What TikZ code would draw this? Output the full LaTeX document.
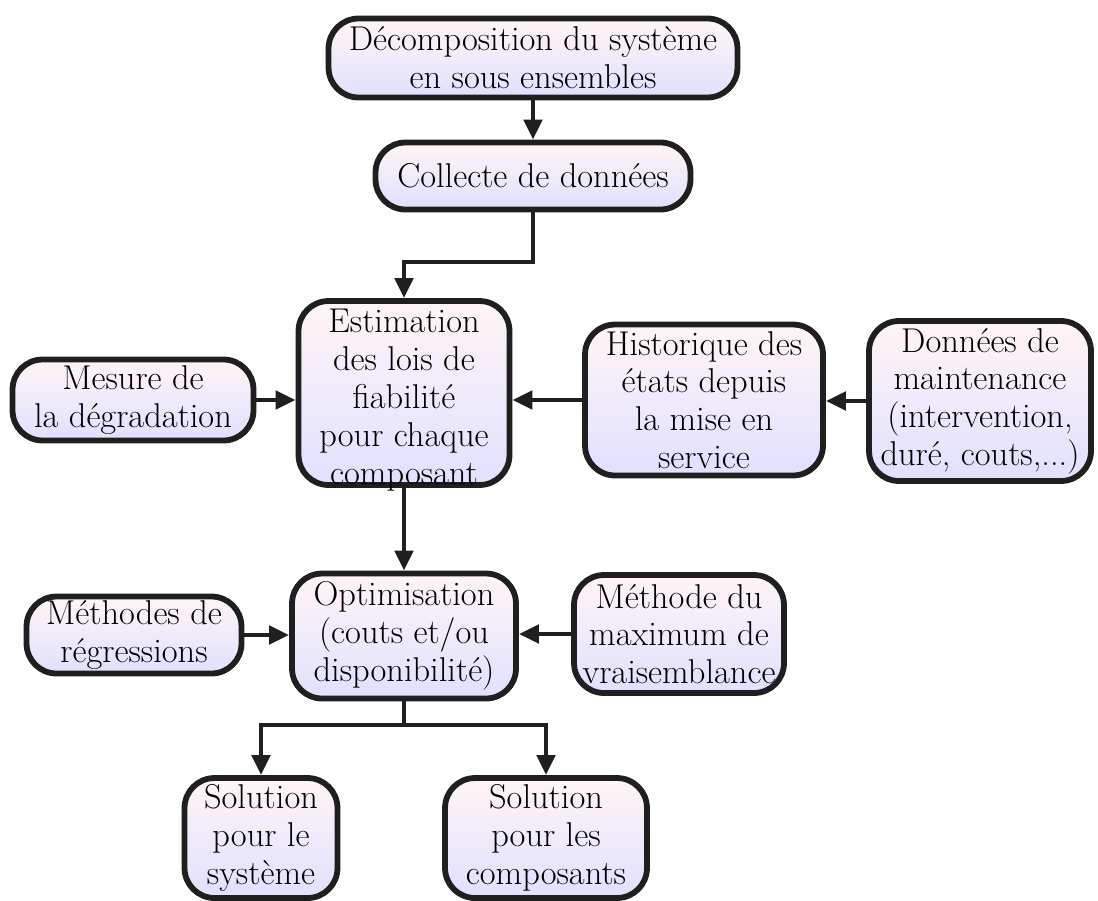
\documentclass[tikz,border=0pt]{standalone}
\usetikzlibrary{arrows.meta}
\begin{document}
\begin{tikzpicture}[x=0.02cm,y=-0.02cm,
  box/.style={draw=black!88, line width=3.3pt, rounded corners=0.6cm,
    top color=red!4, bottom color=blue!12, align=center, inner sep=0pt,
    font=\fontsize{19.6}{21.5}\selectfont},
  link/.style={draw=black!88, line width=2.8pt,
    -{Triangle[length=0.4cm,width=0.36cm]}},
  plain/.style={draw=black!88, line width=2.8pt}]
\useasboundingbox (0,0) rectangle (1098,900);

\node[box, minimum width=8.18cm, minimum height=1.58cm] (dec) at (533,58)
  {Décomposition du système\\en sous ensembles};
\node[box, minimum width=6.3cm, minimum height=1.34cm] (col) at (533,176)
  {Collecte de données};
% the five lines sit low in this box, down to its lower edge
\node[box, minimum width=4.22cm, minimum height=3.68cm] (est) at (404,393)
  {\raisebox{-9.7pt}[0pt][0pt]{\begin{tabular}{@{}c@{}}Estimation\\des lois de\\fiabilité\\pour chaque\\composant\end{tabular}}};
\node[box, minimum width=4.82cm, minimum height=1.62cm] (mes) at (133,400)
  {Mesure de\\la dégradation};
\node[box, minimum width=4.76cm, minimum height=3.02cm] (his) at (704,400)
  {Historique des\\états depuis\\la mise en\\service};
\node[box, minimum width=4.44cm, minimum height=3.2cm] (don) at (980,401)
  {Données de\\maintenance\\(intervention,\\duré, couts,...)};
\node[box, minimum width=4.48cm, minimum height=2.5cm] (opt) at (404,636)
  {Optimisation\\(couts et/ou\\disponibilité)};
\node[box, minimum width=4.3cm, minimum height=1.54cm] (reg) at (134,635)
  {Méthodes de\\régressions};
\node[box, minimum width=4.2cm, minimum height=2.36cm] (max) at (679,634)
  {Méthode du\\maximum de\\vraisemblance};
\node[box, minimum width=3.06cm, minimum height=2.4cm] (sys) at (261,838)
  {Solution\\pour le\\système};
\node[box, minimum width=4.04cm, minimum height=2.4cm] (cmp) at (546,838)
  {Solution\\pour les\\composants};

\coordinate (j1) at (533,262);
\coordinate (j2) at (404,262);
\coordinate (j3) at (404,725);

\draw[link] (dec) -- (col);
\draw[link] (col.south) -- (j1) -- (j2) -- (est.north);
\draw[link] (mes.east) -- (mes.east -| est.west);
\draw[link] (his.west) -- (his.west -| est.east);
\draw[link] (don.west) -- (don.west -| his.east);
\draw[link] (est) -- (opt);
\draw[link] (reg.east) -- (reg.east -| opt.west);
\draw[link] (max.west) -- (max.west -| opt.east);
\draw[plain] (opt.south) -- (j3);
\draw[link] (j3) -| (sys.north);
\draw[link] (j3) -| (cmp.north);
\end{tikzpicture}
\end{document}
